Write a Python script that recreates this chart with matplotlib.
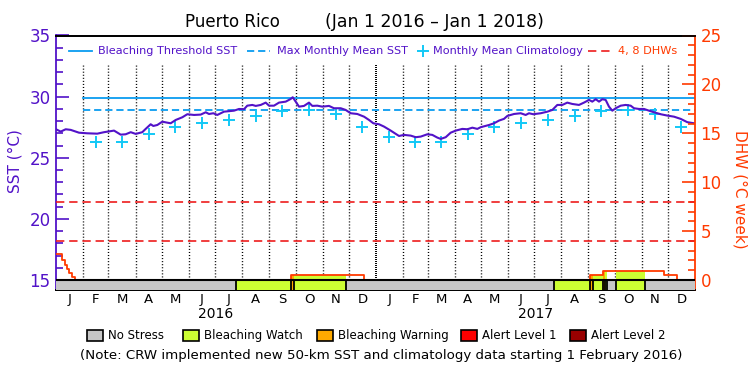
import datetime as dt
import numpy as np
import matplotlib
matplotlib.use("Agg")
import matplotlib.pyplot as plt
from matplotlib.patches import Rectangle

plt.rcParams['lines.scale_dashes'] = False
plt.rcParams['font.family'] = ['DejaVu Sans']

# ---------------- data ----------------
start_date = dt.date(2016, 1, 1)
end_date = dt.date(2018, 1, 1)

# daily SST (sampled), days since 2016-01-01
sst_days = [0, 5.4, 11.1, 16.8, 26.3, 35.8, 47.2, 54.9, 66.4, 74.0, 79.7, 85.5, 91.2, 98.7,
            102.6, 108.3, 111.3, 115.9, 121.6, 127.3, 131.2, 136.9, 144.5, 150.2, 157.9,
            165.5, 171.3, 175.0, 180.0, 184.5, 192.2, 203.6, 209.4, 215.1, 218.8, 224.6,
            228.5, 234.2, 239.9, 243.7, 249.4, 255.1, 262.8, 268.5, 270.8, 274.2, 278.0,
            283.7, 289.4, 293.2, 298.9, 304.7, 312.3, 318.0, 325.7, 331.4, 337.1, 344.7,
            352.4, 358.1, 363.0, 369.5, 375.2, 382.9, 392.4, 398.1, 405.8, 411.5, 417.2,
            424.8, 430.5, 436.2, 440.1, 445.8, 451.5, 457.3, 464.8, 470.5, 476.3, 482.0,
            485.9, 495.4, 501.1, 506.8, 512.5, 516.3, 524.0, 531.6, 537.3, 541.1, 546.0,
            554.5, 562.1, 567.8, 573.5, 579.2, 584.9, 590.6, 598.3, 604.0, 609.8, 613.5,
            617.4, 621.2, 625.0, 628.8, 632.6, 636.4, 640.3, 646.0, 651.7, 657.4, 661.2,
            667.0, 672.7, 678.4, 684.1, 691.8, 699.3, 707.0, 714.6, 722.2, 729.9]
sst_vals = [27.33, 27.14, 27.33, 27.28, 27.05, 27.00, 26.97, 27.09, 27.22, 26.89, 26.92,
            27.09, 26.95, 27.09, 27.36, 27.74, 27.60, 27.68, 27.95, 27.87, 27.82, 28.09,
            28.31, 28.56, 28.50, 28.53, 28.72, 28.58, 28.64, 28.50, 28.77, 28.85, 28.99,
            28.97, 29.26, 29.32, 29.24, 29.32, 29.51, 29.26, 29.26, 29.51, 29.59, 29.81,
            29.95, 29.59, 29.18, 29.24, 29.51, 29.24, 29.26, 29.18, 29.24, 29.05, 29.05,
            28.91, 28.64, 28.58, 28.36, 28.09, 27.82, 27.74, 27.55, 27.22, 26.78, 26.87,
            26.81, 26.68, 26.73, 26.92, 26.87, 26.65, 26.54, 26.68, 27.05, 27.22, 27.36,
            27.33, 27.46, 27.36, 27.50, 27.68, 27.82, 28.04, 28.18, 28.42, 28.58, 28.64,
            28.50, 28.64, 28.56, 28.64, 28.77, 28.91, 29.32, 29.32, 29.51, 29.40, 29.32,
            29.51, 29.73, 29.59, 29.79, 29.59, 29.79, 29.73, 29.18, 28.85, 29.05, 29.26,
            29.32, 29.26, 29.05, 28.99, 28.99, 28.85, 28.72, 28.56, 28.45, 28.36, 28.18,
            27.91, 27.82]

# monthly mean climatology, Jan..Dec
clim_vals = [26.70, 26.27, 26.27, 26.95, 27.55, 27.85, 28.06, 28.39, 28.80, 28.88, 28.55, 27.52]
mmm = 28.88
bleach_threshold = 29.88
dhw_levels = [4, 8]
new_data_start = dt.date(2016, 2, 1)

# DHW step function (value holds from day until next day)
dhw_days = [0, 6.9, 9.9, 12.6, 15.2, 18.3, 21.4, 268.8, 352.4, 610.8, 625.4, 695.9, 710.1, 731]
dhw_vals = [2.66, 2.05, 1.54, 1.13, 0.68, 0.34, 0.0, 0.51, 0.0, 0.51, 0.95, 0.51, 0.0, 0.0]

# stress level segments (0 none, 1 watch, 2 warning, 3 alert 1, 4 alert 2)
stress_start = [206.3, 268.8, 272.4, 570.0, 610.8, 614.2, 626.0, 628.0, 640.3]
stress_end = [268.8, 272.4, 331.8, 610.8, 614.2, 626.0, 628.0, 630.7, 673.8]
stress_level = [1, 2, 1, 1, 2, 1, 2, 1, 1]

stress_names = ['No Stress', 'Bleaching Watch', 'Bleaching Warning', 'Alert Level 1', 'Alert Level 2']
stress_colors = ['#c6c6c6', '#ccff33', '#ffaa00', '#ff0000', '#990000']

month_letters = ['J', 'F', 'M', 'A', 'M', 'J', 'J', 'A', 'S', 'O', 'N', 'D']
year_labels = ['2016', '2017']

# ---------------- styling ----------------
PURPLE = '#5212c8'
BLUE = '#0a9cf0'
CYAN = '#12c8f6'
ORANGE = '#ff3a00'
RED = '#ee1c1c'

W, H = 750, 375
L, R, T, B = 56, 695, 35.5, 290.3
px_per_deg = 12.22
sst_lo = 15 - (B - 280) / px_per_deg


def d(date):
    return (date - start_date).days


def fx(x):
    return x / W


def fy(y):
    return 1 - y / H


fig = plt.figure(figsize=(7.5, 3.75), dpi=100)
ax = fig.add_axes([L / W, 1 - B / H, (R - L) / W, (B - T) / H])
ax.set_xlim(0, d(end_date))
ax.set_ylim(sst_lo, 35)
ax.set_facecolor('none')

ax2 = ax.twinx()
ax2.set_ylim((sst_lo - 15) * 1.25, 25)
ax2.set_facecolor('none')

# month boundaries
month_starts = []
mid_months = []
for yr in (2016, 2017):
    for m in range(1, 13):
        a = dt.date(yr, m, 1)
        b = dt.date(yr + (m == 12), m % 12 + 1, 1)
        month_starts.append(d(a))
        mid_months.append((d(a) + d(b)) / 2)

top_dot = 35 - (65 - T) / px_per_deg
for ms in month_starts[1:]:
    if ms == d(dt.date(2017, 1, 1)):
        ax.plot([ms, ms], [15, top_dot], color='black', lw=1.4, ls=(0, (0.72, 0.72)), zorder=1)
    else:
        ax.plot([ms, ms], [15, top_dot], color='black', lw=1.0, ls=(0, (0.75, 1.45)), zorder=1)

# thresholds
x0 = d(new_data_start)
ax.plot([x0, d(end_date)], [bleach_threshold] * 2, color=BLUE, lw=1.3, zorder=2)
ax.plot([x0, d(end_date)], [mmm] * 2, color=BLUE, lw=1.3, ls=(0, (5.2, 2.8)), zorder=2)

# climatology crosses
cl_x, cl_y = [], []
for i in range(1, 24):
    cl_x.append(mid_months[i])
    cl_y.append(clim_vals[i % 12])
ax.plot(cl_x, cl_y, ls='none', marker='+', ms=9, mew=1.4, color=CYAN, zorder=3)

# SST line
ax.plot(sst_days, sst_vals, color=PURPLE, lw=1.5, zorder=4)

# DHW dashed lines
for lv in dhw_levels:
    ax2.plot([0, d(end_date)], [lv, lv], color=RED, lw=1.2, ls=(0, (6, 3.5)), zorder=2)


# DHW fills by stress level
def dhw_at(x):
    idx = np.searchsorted(dhw_days, x, side='right') - 1
    return np.asarray(dhw_vals)[np.clip(idx, 0, len(dhw_vals) - 1)]


for s, e, lev in zip(stress_start, stress_end, stress_level):
    xs = [s] + [v for v in dhw_days if s < v < e] + [e]
    ys = list(dhw_at(np.array(xs)))
    ax2.fill_between(xs, 0, ys, step='post', color=stress_colors[lev], lw=0, zorder=3)

ax2.step(dhw_days, dhw_vals, where='post', color=ORANGE, lw=1.3, zorder=4)

# stress bar
ylo = ax2.get_ylim()[0]
ax2.fill_between([0, d(end_date)], ylo, 0, color=stress_colors[0], lw=0, zorder=5)
for s, e, lev in zip(stress_start, stress_end, stress_level):
    ax2.fill_between([s, e], ylo, 0, color=stress_colors[lev], lw=0, zorder=5)
bounds = sorted(set(stress_start) | set(stress_end))
for bd in bounds:
    ax2.plot([bd, bd], [ylo, 0], color='black', lw=1.3, zorder=6)
ax2.plot([0, d(end_date)], [0, 0], color='black', lw=1.5, zorder=7)

# axes styling
ax.set_yticks([15, 20, 25, 30, 35])
ax.set_yticks(np.arange(15, 36, 1), minor=True)
ax.tick_params(axis='y', which='major', direction='in', length=9.5, width=1.2,
               color=PURPLE, labelcolor=PURPLE, labelsize=12, pad=4)
ax.tick_params(axis='y', which='minor', direction='in', length=5, width=1.2, color=PURPLE)
ax2.set_yticks([0, 5, 10, 15, 20, 25])
ax2.set_yticks(np.arange(0, 26, 1), minor=True)
ax2.tick_params(axis='y', which='major', direction='in', length=9.5, width=1.2,
                color=ORANGE, labelcolor=ORANGE, labelsize=12, pad=4)
ax2.tick_params(axis='y', which='minor', direction='in', length=5, width=1.2, color=ORANGE)

ax.set_xticks(mid_months)
ax.set_xticklabels(month_letters * 2, fontsize=9.5)
ax.tick_params(axis='x', length=0, pad=2)
ax2.tick_params(axis='x', length=0)

for a in (ax, ax2):
    for sp in a.spines.values():
        sp.set_linewidth(1.3)
ax.spines['left'].set_color(PURPLE)
ax2.spines['left'].set_visible(False)
ax2.spines['right'].set_color(ORANGE)
ax.spines['right'].set_visible(False)

# year labels
for i, yl in enumerate(year_labels):
    xm = (d(dt.date(2016 + i, 1, 1)) + d(dt.date(2017 + i, 1, 1))) / 2
    ax.text(xm, fy(314), yl, transform=matplotlib.transforms.blended_transform_factory(
        ax.transData, fig.transFigure), ha='center', va='center', fontsize=10)

# axis labels
fig.text(fx(15), fy(161), 'SST (°C)', rotation=90, ha='center', va='center', color=PURPLE,
         fontsize=11)
fig.text(fx(740), fy(189), 'DHW (°C week)', rotation=270, ha='center', va='center',
         color=ORANGE, fontsize=11)

# title
fig.text(fx(185), fy(22), 'Puerto Rico', ha='left', va='center', fontsize=12)
fig.text(fx(325), fy(22), '(Jan 1 2016 – Jan 1 2018)', ha='left', va='center', fontsize=12.5)

# top legend
ly = fy(51)
LFS = 8.1
fig.add_artist(plt.Line2D([fx(69), fx(92)], [ly, ly], color=BLUE, lw=1.3))
fig.text(fx(98), ly, 'Bleaching Threshold SST', color=PURPLE, fontsize=LFS, va='center')
fig.add_artist(plt.Line2D([fx(247), fx(270)], [ly, ly], color=BLUE, lw=1.3, ls=(0, (5.2, 2.8))))
fig.text(fx(277), ly, 'Max Monthly Mean SST', color=PURPLE, fontsize=LFS, va='center')
fig.add_artist(plt.Line2D([fx(422.7)], [ly], color=CYAN, marker='+', ms=9, mew=1.4))
fig.text(fx(433), ly, 'Monthly Mean Climatology', color=PURPLE, fontsize=LFS, va='center')
fig.add_artist(plt.Line2D([fx(588), fx(612)], [ly, ly], color=RED, lw=1.2, ls=(0, (6, 3.5))))
fig.text(fx(618), ly, '4, 8 DHWs', color=ORANGE, fontsize=LFS, va='center')

# bottom legend
box_x = [87.3, 183.3, 317, 461, 569.7]
for bx, nm, col in zip(box_x, stress_names, stress_colors):
    fig.add_artist(Rectangle((fx(bx), fy(340.7)), 16 / W, 10.7 / H, transform=fig.transFigure,
                             facecolor=col, edgecolor='black', lw=1.2))
    fig.text(fx(bx + 21), fy(335.5), nm, fontsize=8.5, va='center', ha='left')

fig.text(fx(381), fy(355), '(Note: CRW implemented new 50-km SST and climatology data starting 1 February 2016)',
         fontsize=9.6, ha='center', va='center')

fig.savefig('out.png', dpi=100)
